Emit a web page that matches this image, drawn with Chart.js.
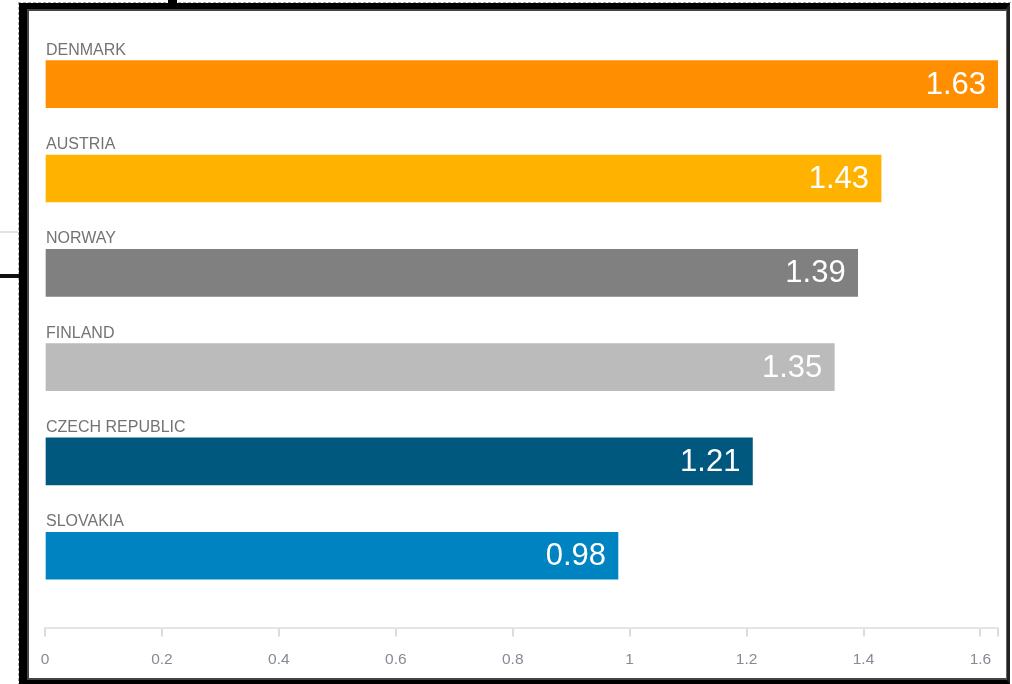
<!DOCTYPE html>
<html><head><meta charset="utf-8">
<script src="https://cdn.jsdelivr.net/npm/chart.js@4"></script>
<style>
html,body{margin:0;padding:0;background:#fff;}
#wrap{position:relative;width:1012px;height:684px;overflow:hidden;background:#fff;}
canvas{position:absolute;left:0;top:0;}
.f{position:absolute;box-sizing:border-box;}
</style></head>
<body><div id="wrap">
<canvas id="c" width="1012" height="684"></canvas>
<div class="f" style="left:18px;top:2px;width:993px;height:684px;border-left:1px dashed #aaa;border-top:1px dashed #aaa;"></div>
<div class="f" style="left:19px;top:3px;width:991px;height:681px;border-left:8px solid #000;border-top:6px solid #000;border-right:4px solid #222;border-bottom:5px solid #000;"></div>
<div class="f" style="left:27px;top:9px;width:980px;height:671px;border-left:2px solid #444;border-top:2px solid #444;border-right:1px solid #666;border-bottom:2px solid #444;"></div>
<div class="f" style="left:168px;top:0px;width:9px;height:4px;background:#000;"></div>
<div class="f" style="left:0px;top:231px;width:18px;height:2px;background:#e2e2e2;"></div>
<div class="f" style="left:0px;top:274px;width:19px;height:4px;background:#111;"></div>
</div>
<script>
const categories = ['DENMARK', 'AUSTRIA', 'NORWAY', 'FINLAND', 'CZECH REPUBLIC', 'SLOVAKIA'];
const values = [1.63, 1.43, 1.39, 1.35, 1.21, 0.98];
const barColors = ['#FF8F00', '#FFB300', '#808080', '#BBBBBB', '#00587F', '#0083C1'];
const xTickValues = [0, 0.2, 0.4, 0.6, 0.8, 1, 1.2, 1.4, 1.6];
const xMax = 1.63;
const yMin = -0.5, yMax = 5.77;

const labelPlugin = {
  id: 'barLabels',
  afterDatasetsDraw(chart) {
    const ctx = chart.ctx;
    const meta = chart.getDatasetMeta(0);
    meta.data.forEach((bar, i) => {
      const p = bar.getProps(['x', 'y', 'base', 'height'], true);
      ctx.save();
      ctx.fillStyle = '#737373';
      ctx.font = '16px "Liberation Sans", Arial, sans-serif';
      ctx.textAlign = 'left';
      ctx.textBaseline = 'alphabetic';
      ctx.fillText(categories[i], p.base, p.y - p.height / 2 - 6);
      ctx.fillStyle = '#ffffff';
      ctx.font = '31px "Liberation Sans", Arial, sans-serif';
      ctx.textAlign = 'right';
      ctx.textBaseline = 'middle';
      ctx.fillText(values[i].toFixed(2), p.x - 12, p.y + 1);
      ctx.restore();
    });
  }
};

new Chart(document.getElementById('c'), {
  type: 'bar',
  data: {
    datasets: [{
      data: values.map((v, i) => ({ x: v, y: i })),
      backgroundColor: barColors,
      borderWidth: 0,
      barThickness: 47
    }]
  },
  options: {
    indexAxis: 'y',
    responsive: false,
    animation: false,
    devicePixelRatio: 1,
    layout: { padding: { left: 45, right: 13, top: 37, bottom: 1 } },
    plugins: { legend: { display: false }, tooltip: { enabled: false } },
    scales: {
      y: {
        type: 'linear', reverse: true, min: yMin, max: yMax, display: false,
        offset: false, bounds: 'data', grace: 0,
        afterDataLimits: (s) => { s.min = yMin; s.max = yMax; }
      },
      x: {
        type: 'linear', min: 0, max: xMax,
        afterBuildTicks: (s) => { s.ticks = xTickValues.concat([xMax]).map(v => ({ value: v })); },
        grid: { drawOnChartArea: false, drawTicks: true, tickLength: 8, color: '#dcdcdc', lineWidth: 2 },
        border: { display: true, color: '#e4e4e4', width: 2 },
        ticks: {
          autoSkip: false, maxRotation: 0, padding: 14,
          color: '#858b96',
          font: { family: '"Liberation Sans", Arial, sans-serif', size: 15.5 },
          callback: (v) => xTickValues.includes(v) ? String(v) : ''
        }
      }
    }
  },
  plugins: [labelPlugin]
});
</script>
</body></html>
